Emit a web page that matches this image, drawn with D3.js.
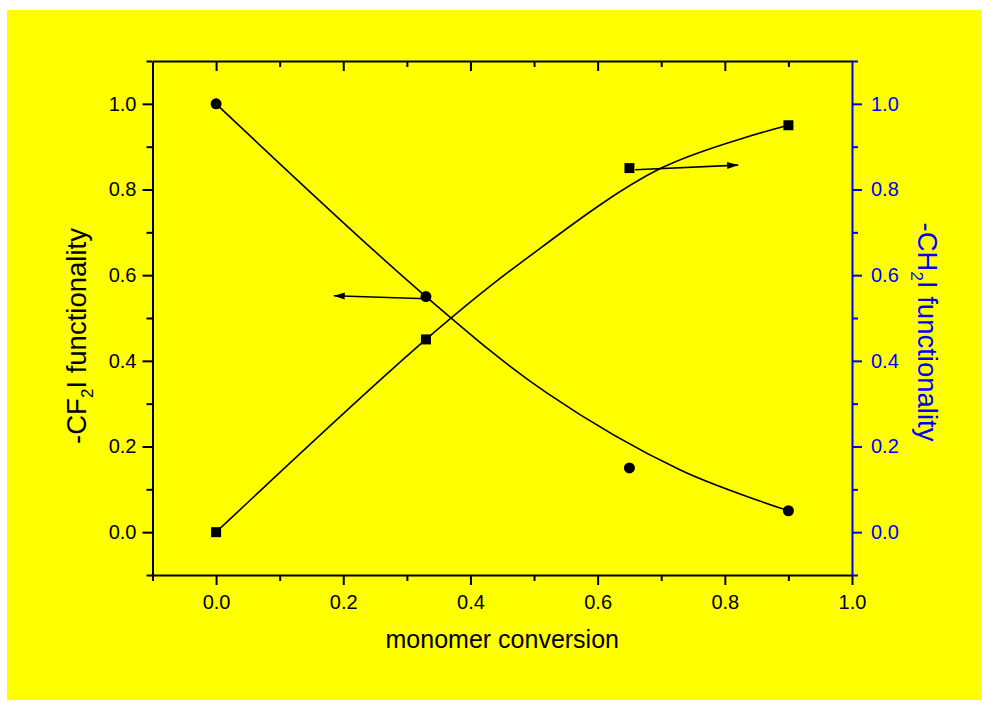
<!DOCTYPE html>
<html><head><meta charset="utf-8">
<script src="https://cdn.jsdelivr.net/npm/d3@7"></script>
<style>
body{margin:0;background:#fff}
svg{display:block}
text{font-family:"Liberation Sans",Arial,Helvetica,sans-serif}
</style>
</head><body>
<svg id="c" width="982" height="706"></svg>
<script>
// ---- data ----
const conversion = [0, 0.33, 0.65, 0.9];
const cf2iValues = [1.0, 0.55, 0.15, 0.05];
const ch2iValues = [0.0, 0.45, 0.85, 0.95];
const cf2iFitX = [0, 0.33, 0.52, 0.73, 0.9];
const cf2iFitY = [1.0, 0.55, 0.325, 0.145, 0.05];
const ch2iFitX = [0, 0.33, 0.48, 0.70, 0.9];
const ch2iFitY = [0, 0.45, 0.63, 0.85, 0.95];
const arrowCF2IX = [0.33, 0.185];
const arrowCF2IY = [0.545, 0.552];
const arrowCH2IX = [0.659, 0.821];
const arrowCH2IY = [0.846, 0.857];
const xTicks = [0, 0.2, 0.4, 0.6, 0.8, 1.0];
const xMinorTicks = [-0.1, 0.1, 0.3, 0.5, 0.7, 0.9];
const yTicks = [0, 0.2, 0.4, 0.6, 0.8, 1.0];
const yMinorTicks = [-0.1, 0.1, 0.3, 0.5, 0.7, 0.9, 1.1];
const xTitle = "monomer conversion";
const blue = "#0000ff";

// ---- layout ----
const svg = d3.select("#c");
svg.append("rect").attr("x", 7).attr("y", 10).attr("width", 975).attr("height", 690).attr("fill", "#ffff00");

const x = d3.scaleLinear().domain([-0.1, 1.0]).range([152.5, 852]);
const y = d3.scaleLinear().domain([-0.1, 1.1]).range([575, 61]);
const fmt = d3.format(".1f");
const pTop = 61, pBottom = 575, pLeft = 152.5, pRight = 852;

function styleAxis(g, color, fs) {
  g.selectAll("path.domain").attr("stroke", color).attr("stroke-width", 2);
  g.selectAll(".tick line").attr("stroke", color).attr("stroke-width", 2);
  g.selectAll(".tick text").attr("fill", color).style("font-size", fs + "px").attr("font-family", null);
}

// bottom axis
const gb = svg.append("g").attr("transform", `translate(0,${pBottom})`);
gb.call(d3.axisBottom(x).tickValues(xMinorTicks).tickSize(6).tickFormat(""));
const gb2 = svg.append("g").attr("transform", `translate(0,${pBottom})`);
gb2.call(d3.axisBottom(x).tickValues(xTicks).tickSizeInner(10).tickSizeOuter(0).tickPadding(10).tickFormat(fmt));
styleAxis(gb, "#000", 20); styleAxis(gb2, "#000", 20);
gb.select("path.domain").remove();

// top axis (inward ticks)
const gt = svg.append("g").attr("transform", `translate(0,${pTop})`);
gt.call(d3.axisTop(x).tickValues(xMinorTicks.filter(v => v > -0.1)).tickSizeInner(-6).tickSizeOuter(0).tickFormat(""));
const gt2 = svg.append("g").attr("transform", `translate(0,${pTop})`);
gt2.call(d3.axisTop(x).tickValues(xTicks.filter(v => v < 1)).tickSizeInner(-10).tickSizeOuter(0).tickFormat(""));
styleAxis(gt, "#000", 20); styleAxis(gt2, "#000", 20);
gt2.select("path.domain").remove();

// left axis
const gl = svg.append("g").attr("transform", `translate(${pLeft},0)`);
gl.call(d3.axisLeft(y).tickValues(yMinorTicks).tickSize(6).tickFormat(""));
const gl2 = svg.append("g").attr("transform", `translate(${pLeft},0)`);
gl2.call(d3.axisLeft(y).tickValues(yTicks).tickSizeInner(10).tickSizeOuter(0).tickPadding(6).tickFormat(fmt));
styleAxis(gl, "#000", 20); styleAxis(gl2, "#000", 20);
gl.select("path.domain").remove();

// right axis (blue)
const gr = svg.append("g").attr("transform", `translate(${pRight},0)`);
gr.call(d3.axisRight(y).tickValues(yMinorTicks).tickSize(6).tickFormat(""));
const gr2 = svg.append("g").attr("transform", `translate(${pRight},0)`);
gr2.call(d3.axisRight(y).tickValues(yTicks).tickSizeInner(10).tickSizeOuter(0).tickPadding(9).tickFormat(fmt));
styleAxis(gr, blue, 20); styleAxis(gr2, blue, 20);
gr.select("path.domain").remove();

// titles
svg.append("text").attr("x", (pLeft + pRight) / 2).attr("y", 648).attr("text-anchor", "middle")
  .style("font-size", "25px").attr("fill", "#000").text(xTitle);

const lt = svg.append("text").attr("transform", "translate(86,336) rotate(-90)").attr("text-anchor", "middle")
  .style("font-size", "27.5px").attr("fill", "#000");
lt.append("tspan").text("-CF");
lt.append("tspan").attr("dy", 7).style("font-size", "17px").text("2");
lt.append("tspan").attr("dy", -7).text("I functionality");

const rt = svg.append("text").attr("transform", "translate(918,332) rotate(90)").attr("text-anchor", "middle")
  .style("font-size", "27.5px").attr("fill", blue);
rt.append("tspan").text("-CH");
rt.append("tspan").attr("dy", 7).style("font-size", "17px").text("2");
rt.append("tspan").attr("dy", -7).text("I functionality");

// fit curves
const line = d3.line().x(d => x(d[0])).y(d => y(d[1])).curve(d3.curveCatmullRom.alpha(0.5));
svg.append("path").attr("d", line(cf2iFitX.map((v, i) => [v, cf2iFitY[i]])))
  .attr("fill", "none").attr("stroke", "#000").attr("stroke-width", 1.6);
svg.append("path").attr("d", line(ch2iFitX.map((v, i) => [v, ch2iFitY[i]])))
  .attr("fill", "none").attr("stroke", "#000").attr("stroke-width", 1.6);

// arrows
const defs = svg.append("defs");
defs.append("marker").attr("id", "ah").attr("markerUnits", "userSpaceOnUse")
  .attr("markerWidth", 12).attr("markerHeight", 8).attr("refX", 11).attr("refY", 3.5)
  .attr("orient", "auto")
  .append("path").attr("d", "M0,0 L11,3.5 L0,7 Z").attr("fill", "#000");
[[arrowCF2IX, arrowCF2IY], [arrowCH2IX, arrowCH2IY]].forEach(([ax, ay]) => {
  svg.append("line").attr("x1", x(ax[0])).attr("y1", y(ay[0])).attr("x2", x(ax[1])).attr("y2", y(ay[1]))
    .attr("stroke", "#000").attr("stroke-width", 1.6).attr("marker-end", "url(#ah)");
});

// markers
svg.selectAll("circle.cf").data(conversion).enter().append("circle")
  .attr("cx", d => x(d)).attr("cy", (d, i) => y(cf2iValues[i])).attr("r", 5.5).attr("fill", "#000");
svg.selectAll("rect.ch").data(conversion).enter().append("rect")
  .attr("x", d => x(d) - 5).attr("y", (d, i) => y(ch2iValues[i]) - 5)
  .attr("width", 10).attr("height", 10).attr("fill", "#000");
</script>
</body></html>
